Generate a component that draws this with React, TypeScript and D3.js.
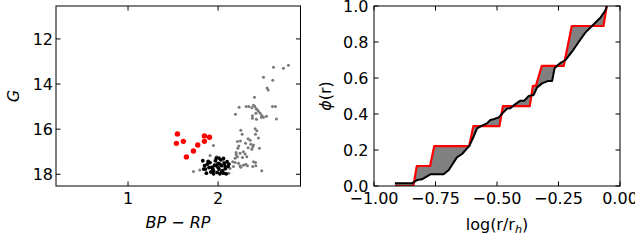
import * as d3 from "d3"

// colour-magnitude diagram
const redStars: [number, number][] = [
  [1.548, 16.21], [1.537, 16.63], [1.614, 16.54], [1.648, 17.23], [1.726, 16.97],
  [1.774, 16.70], [1.848, 16.30], [1.848, 16.54], [1.904, 16.36],
]

const blackStars: [number, number][] = [
  [1.83, 17.40], [1.85, 17.62], [1.88, 17.55], [1.86, 17.77], [1.87, 17.95], [1.91, 17.48],
  [1.93, 17.70], [1.95, 17.85], [1.97, 17.40], [1.98, 17.62], [1.99, 17.92], [2.00, 17.52],
  [2.01, 17.77], [2.02, 17.98], [2.03, 17.36], [2.04, 17.62], [2.05, 17.84], [2.06, 17.30],
  [2.07, 17.52], [2.08, 17.75], [2.09, 17.98], [2.10, 17.44], [2.11, 17.66], [2.12, 17.55],
  [1.95, 17.98], [1.92, 17.90], [1.98, 17.28], [2.01, 17.28], [2.04, 17.88], [2.00, 17.70],
  [1.90, 17.70], [1.84, 17.77], [1.89, 17.43], [1.96, 17.60], [2.02, 17.55], [1.94, 17.75],
  [2.06, 17.95], [2.08, 17.65],
]

const grayStars: [number, number][] = [
  [2.726, 13.30], [2.781, 13.17], [2.615, 13.26], [2.504, 13.70], [2.607, 13.83], [2.544, 14.17],
  [2.556, 14.26], [2.404, 14.59], [2.604, 14.99], [2.637, 14.99], [2.537, 15.43], [2.648, 15.55],
  [2.233, 15.03], [2.193, 15.34], [2.311, 14.99], [2.341, 14.99], [2.374, 15.05], [2.393, 14.94],
  [2.407, 14.99], [2.422, 15.09], [2.433, 15.13], [2.448, 15.21], [2.467, 15.30], [2.485, 15.39],
  [2.481, 15.47], [2.419, 15.30], [2.381, 15.41], [2.381, 15.52], [2.426, 15.56], [2.504, 15.47],
  [2.411, 15.98], [2.430, 16.07], [2.415, 16.23], [2.448, 16.39], [2.252, 16.05], [2.267, 16.23],
  [2.248, 16.52], [2.215, 16.55], [2.304, 16.63], [2.230, 16.75], [2.333, 16.42], [2.356, 16.49],
  [2.363, 16.67], [2.393, 16.70], [2.281, 17.00], [2.200, 17.04], [2.200, 17.14], [2.244, 17.07],
  [2.300, 17.10], [2.319, 17.22], [2.163, 17.45], [2.189, 17.48], [2.226, 17.51], [2.244, 17.62],
  [2.281, 17.60], [2.307, 17.56], [2.393, 17.44], [2.415, 17.48], [2.419, 17.62], [2.385, 17.66],
  [2.485, 17.84], [2.170, 17.66], [2.133, 17.74], [2.326, 17.62], [2.252, 17.69], [1.726, 17.88],
  [1.796, 17.81], [1.948, 16.72], [1.911, 17.17], [1.985, 17.22], [2.059, 17.44], [2.119, 17.96],
  [2.189, 17.29], [2.219, 16.85], [2.385, 16.79], [2.374, 16.89], [2.459, 16.85], [2.333, 16.82],
  [2.270, 17.26], [2.215, 17.22],
]

const cmdXTicks = [1, 2]
const cmdYTicks = [12, 14, 16, 18]

// cumulative radial distributions
const redCdf: [number, number][] = [
  [-0.915, 0], [-0.840, 0], [-0.826, 0.111], [-0.772, 0.111], [-0.755, 0.222], [-0.613, 0.222],
  [-0.596, 0.333], [-0.490, 0.333], [-0.476, 0.444], [-0.367, 0.444], [-0.354, 0.556],
  [-0.342, 0.556], [-0.318, 0.667], [-0.229, 0.667], [-0.196, 0.889], [-0.067, 0.889],
  [-0.054, 1.0],
]

const blackCdf: [number, number][] = [
  [-0.915, 0.015], [-0.846, 0.015], [-0.825, 0.033], [-0.805, 0.037], [-0.771, 0.065],
  [-0.717, 0.065], [-0.696, 0.089], [-0.663, 0.159], [-0.642, 0.178], [-0.612, 0.224],
  [-0.595, 0.274], [-0.581, 0.320], [-0.561, 0.335], [-0.541, 0.348], [-0.527, 0.367],
  [-0.511, 0.372], [-0.493, 0.381], [-0.476, 0.407], [-0.459, 0.430], [-0.446, 0.432],
  [-0.428, 0.452], [-0.405, 0.474], [-0.389, 0.474], [-0.371, 0.500], [-0.351, 0.506],
  [-0.337, 0.548], [-0.317, 0.570], [-0.294, 0.583], [-0.276, 0.583], [-0.266, 0.654],
  [-0.245, 0.681], [-0.222, 0.700], [-0.195, 0.746], [-0.168, 0.800], [-0.141, 0.852],
  [-0.114, 0.889], [-0.080, 0.935], [-0.060, 0.974], [-0.053, 1.0],
]

const cdfXTicks = [-1, -0.75, -0.5, -0.25, 0]
const cdfYTicks = [0, 0.2, 0.4, 0.6, 0.8, 1.0]

const FONT = "DejaVu Sans"
const FS = 16
const TICK = 4.5

export default function App() {
  const width = 635
  const height = 241

  // left panel
  const xL = d3.scaleLinear().domain([0.2, 2.915]).range([56, 300.5])
  const yL = d3.scaleLinear().domain([18.52, 10.54]).range([186, 6])
  // right panel
  const xR = d3.scaleLinear().domain([-1, 0]).range([374, 620])
  const yR = d3.scaleLinear().domain([0, 1]).range([186, 6])

  const lineR = d3
    .line<[number, number]>()
    .x((d) => xR(d[0]))
    .y((d) => yR(d[1]))

  const fillPath = lineR([...redCdf, ...blackCdf.slice().reverse()]) + "Z"

  const minus = (s: string) => s.replace("-", "\u2212")

  const frame = (x: d3.ScaleLinear<number, number>, y: d3.ScaleLinear<number, number>) => {
    const [x0, x1] = x.range()
    const [y0, y1] = y.range()
    return (
      <rect x={x0} y={y1} width={x1 - x0} height={y0 - y1} fill="none" stroke="black" strokeWidth={1} />
    )
  }

  return (
    <svg
      width={width}
      height={height}
      style={{ position: "fixed", left: 0, top: 0, background: "white" }}
      fontFamily={FONT}
      fontSize={FS}
    >
      <rect width={width} height={height} fill="white" />
      <defs>
        <clipPath id="clipR">
          <rect x={374} y={6} width={246} height={180} />
        </clipPath>
        <clipPath id="clipL">
          <rect x={56} y={6} width={244.5} height={180} />
        </clipPath>
      </defs>

      {/* left: CMD */}
      <g clipPath="url(#clipL)">
        {grayStars.map((d, i) => (
          <circle key={"g" + i} cx={xL(d[0])} cy={yL(d[1])} r={1.5} fill="#7a7a7a" />
        ))}
        {blackStars.map((d, i) => (
          <circle key={"b" + i} cx={xL(d[0])} cy={yL(d[1])} r={1.9} fill="black" />
        ))}
        {redStars.map((d, i) => (
          <circle key={"r" + i} cx={xL(d[0])} cy={yL(d[1])} r={2.7} fill="red" />
        ))}
      </g>
      {frame(xL, yL)}
      {cmdXTicks.map((t) => (
        <g key={"lx" + t}>
          <line x1={xL(t)} x2={xL(t)} y1={186} y2={186 - TICK} stroke="black" />
          <line x1={xL(t)} x2={xL(t)} y1={6} y2={6 + TICK} stroke="black" />
          <text x={xL(t)} y={204} textAnchor="middle">{t}</text>
        </g>
      ))}
      {cmdYTicks.map((t) => (
        <g key={"ly" + t}>
          <line x1={56} x2={56 + TICK} y1={yL(t)} y2={yL(t)} stroke="black" />
          <line x1={300.5} x2={300.5 - TICK} y1={yL(t)} y2={yL(t)} stroke="black" />
          <text x={53} y={yL(t) + 5.8} textAnchor="end">{t}</text>
        </g>
      ))}
      <text x={178} y={228} textAnchor="middle">
        <tspan fontStyle="italic">BP</tspan>
        <tspan>{" \u2212 "}</tspan>
        <tspan fontStyle="italic">RP</tspan>
      </text>
      <text transform="translate(18.5,96) rotate(-90)" textAnchor="middle" fontStyle="italic">G</text>

      {/* right: cumulative distributions */}
      <g clipPath="url(#clipR)">
        <path d={fillPath} fill="#808080" stroke="none" />
        <path d={lineR(redCdf) ?? ""} fill="none" stroke="red" strokeWidth={2.2} strokeLinejoin="round" />
        <path d={lineR(blackCdf) ?? ""} fill="none" stroke="black" strokeWidth={2} strokeLinejoin="round" />
      </g>
      {frame(xR, yR)}
      {cdfXTicks.map((t) => (
        <g key={"rx" + t}>
          <line x1={xR(t)} x2={xR(t)} y1={186} y2={186 - TICK} stroke="black" />
          <line x1={xR(t)} x2={xR(t)} y1={6} y2={6 + TICK} stroke="black" />
          <text x={xR(t)} y={203.5} textAnchor="middle">{minus(t.toFixed(2))}</text>
        </g>
      ))}
      {cdfYTicks.map((t) => (
        <g key={"ry" + t}>
          <line x1={374} x2={374 + TICK} y1={yR(t)} y2={yR(t)} stroke="black" />
          <line x1={620} x2={620 - TICK} y1={yR(t)} y2={yR(t)} stroke="black" />
          <text x={368.5} y={yR(t) + 5.8} textAnchor="end">{t.toFixed(1)}</text>
        </g>
      ))}
      <text x={497} y={230} textAnchor="middle">
        log(r/r
        <tspan fontStyle="italic" fontSize={FS * 0.7} dy={3}>h</tspan>
        <tspan dy={-3}>)</tspan>
      </text>
      <text transform="translate(331,96) rotate(-90)" textAnchor="middle">
        <tspan fontStyle="italic">{"\u03D5"}</tspan>
        (r)
      </text>
    </svg>
  )
}
